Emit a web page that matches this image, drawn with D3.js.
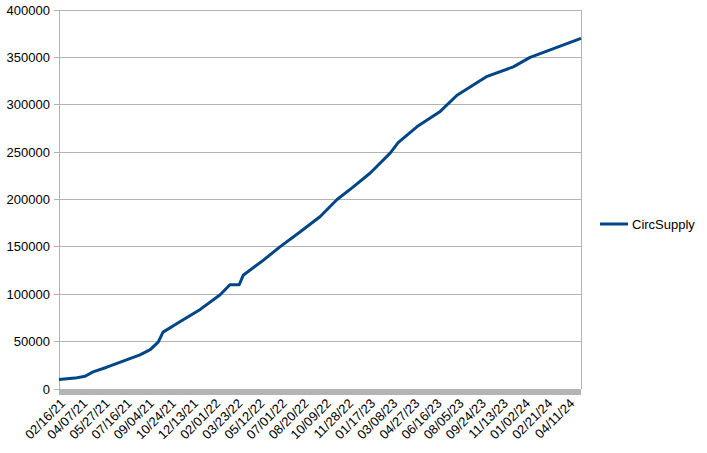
<!DOCTYPE html>
<html><head><meta charset="utf-8">
<script src="https://cdn.jsdelivr.net/npm/d3@7"></script>
<style>body{margin:0;background:#fff;}svg{display:block;font-family:"Liberation Sans",Arial,sans-serif;}</style>
</head><body>
<svg id="c" width="707" height="453"></svg>
<script>
const seriesName = "CircSupply";
const dates = ["2021-02-16","2021-03-24","2021-04-16","2021-05-04","2021-06-04","2021-06-27","2021-07-26","2021-08-18","2021-09-10","2021-09-28","2021-10-09","2021-11-16","2022-01-01","2022-02-15","2022-03-09","2022-03-30","2022-04-08","2022-05-21","2022-06-30","2022-08-15","2022-09-29","2022-11-06","2022-12-12","2023-01-20","2023-03-06","2023-03-24","2023-05-06","2023-06-27","2023-08-04","2023-10-11","2023-12-09","2024-01-16","2024-05-10"];
const values = [10000,11500,13500,18000,23000,27000,32000,36000,41500,49500,60000,71000,84000,99500,110000,110000,120000,135000,150000,166000,182000,200000,213000,228000,249000,260000,277000,293000,310000,330000,340000,350000,370000];
const yTicks = [0,50000,100000,150000,200000,250000,300000,350000,400000];
const tickStart = "2021-02-16", tickStepDays = 50, tickCount = 24;

const parse = d3.utcParse("%Y-%m-%d");
const fmt = d3.utcFormat("%m/%d/%y");
const data = dates.map((d,i)=>({date:parse(d), v:values[i]}));
const xTickVals = d3.range(tickCount).map(i=>d3.utcDay.offset(parse(tickStart), i*tickStepDays));

const L=59, R=581, T=10, B=389;
const x = d3.scaleUtc().domain([data[0].date, data[data.length-1].date]).range([L,R]);
const y = d3.scaleLinear().domain([0,400000]).range([B,T]);
const svg = d3.select("#c");

svg.append("g").selectAll("line").data(yTicks).join("line")
  .attr("x1",L-5).attr("x2",R).attr("y1",d=>y(d)).attr("y2",d=>y(d))
  .attr("stroke","#b3b3b3").attr("stroke-width",1).attr("shape-rendering","crispEdges");
svg.append("line").attr("x1",L).attr("x2",L).attr("y1",T).attr("y2",B).attr("stroke","#b3b3b3").attr("shape-rendering","crispEdges");
svg.append("line").attr("x1",R).attr("x2",R).attr("y1",T).attr("y2",B).attr("stroke","#b3b3b3").attr("shape-rendering","crispEdges");
svg.append("rect").attr("x",L).attr("y",B).attr("width",R-L).attr("height",6).attr("fill","#b4b4b4");

svg.append("g").selectAll("text").data(yTicks).join("text")
  .attr("x",L-9).attr("y",d=>y(d)).attr("dy","0.35em").attr("text-anchor","end")
  .attr("font-size",13).attr("fill","#000").text(d=>d);

svg.append("g").selectAll("text").data(xTickVals).join("text")
  .attr("transform",d=>`translate(${x(d)+4},${B+12}) rotate(-45)`)
  .attr("text-anchor","end").attr("dy","0.35em").attr("font-size",13).attr("fill","#000")
  .text(d=>fmt(d));

svg.append("path").datum(data)
  .attr("d", d3.line().x(d=>x(d.date)).y(d=>y(d.v)))
  .attr("fill","none").attr("stroke","#004586").attr("stroke-width",3).attr("stroke-linejoin","round");

svg.append("line").attr("x1",600).attr("x2",628).attr("y1",224).attr("y2",224).attr("stroke","#004586").attr("stroke-width",3);
svg.append("text").attr("x",632).attr("y",224).attr("dy","0.35em").attr("font-size",13).attr("fill","#000").text(seriesName);
</script>
</body></html>
